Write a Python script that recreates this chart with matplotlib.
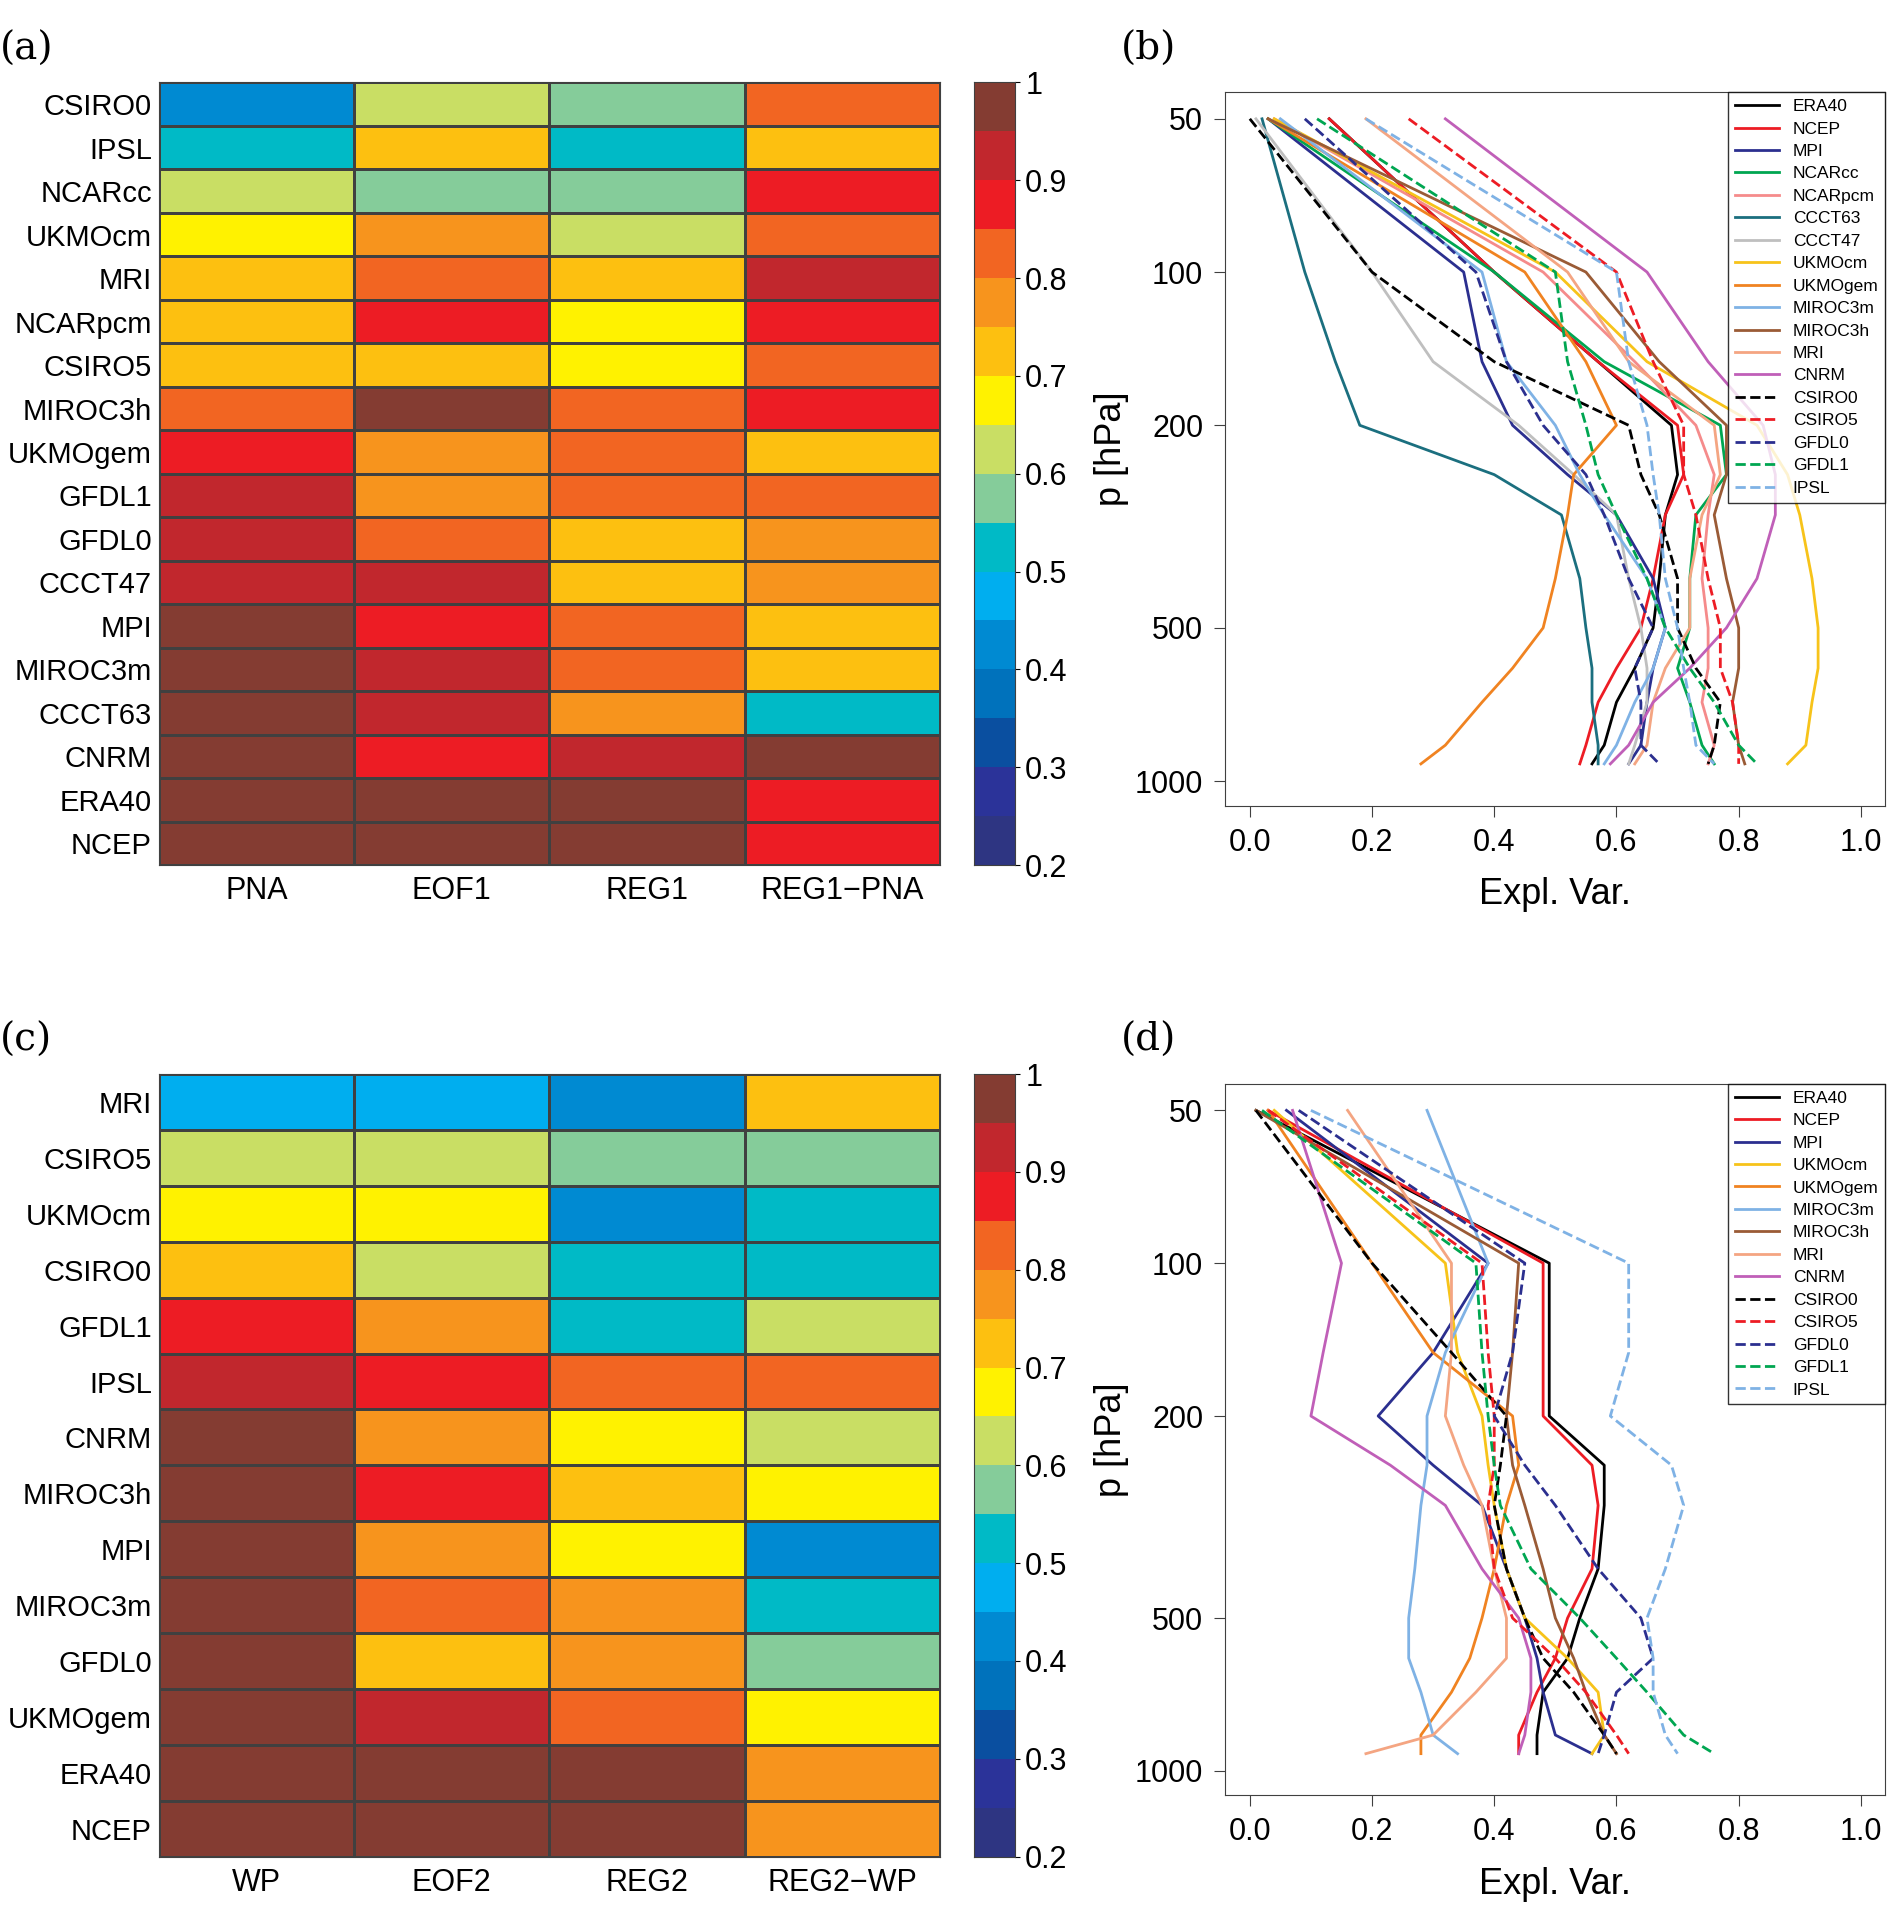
from matplotlib import pyplot as plt
from matplotlib.colors import ListedColormap, BoundaryNorm
import numpy as np

# Colour levels of the explained variance scale.
level_colors = ['#2E3582', '#2B3399', '#0A4FA0', '#0072BC', '#008AD2', '#00AEEF',
                '#00BAC6', '#85CC9A', '#C9DE64', '#FFF200', '#FDC010', '#F7941D',
                '#F26522', '#ED1C24', '#C1272D', '#843C32']
bounds = np.arange(0.2, 1.0001, 0.05)

models_a = ['CSIRO0', 'IPSL', 'NCARcc', 'UKMOcm', 'MRI', 'NCARpcm', 'CSIRO5', 'MIROC3h',
            'UKMOgem', 'GFDL1', 'GFDL0', 'CCCT47', 'MPI', 'MIROC3m', 'CCCT63', 'CNRM',
            'ERA40', 'NCEP']
cols_a = ['PNA', 'EOF1', 'REG1', 'REG1\u2212PNA']
vals_a = [[0.42, 0.62, 0.57, 0.82],
          [0.52, 0.72, 0.52, 0.72],
          [0.62, 0.57, 0.57, 0.87],
          [0.67, 0.77, 0.62, 0.82],
          [0.72, 0.82, 0.72, 0.92],
          [0.72, 0.87, 0.67, 0.87],
          [0.72, 0.72, 0.67, 0.82],
          [0.82, 0.97, 0.82, 0.87],
          [0.87, 0.77, 0.82, 0.72],
          [0.92, 0.77, 0.82, 0.82],
          [0.92, 0.82, 0.72, 0.77],
          [0.92, 0.92, 0.72, 0.77],
          [0.97, 0.87, 0.82, 0.72],
          [0.97, 0.92, 0.82, 0.72],
          [0.97, 0.92, 0.77, 0.52],
          [0.97, 0.87, 0.92, 0.97],
          [0.97, 0.97, 0.97, 0.87],
          [0.97, 0.97, 0.97, 0.87]]

models_c = ['MRI', 'CSIRO5', 'UKMOcm', 'CSIRO0', 'GFDL1', 'IPSL', 'CNRM', 'MIROC3h',
            'MPI', 'MIROC3m', 'GFDL0', 'UKMOgem', 'ERA40', 'NCEP']
cols_c = ['WP', 'EOF2', 'REG2', 'REG2\u2212WP']
vals_c = [[0.47, 0.47, 0.42, 0.72],
          [0.62, 0.62, 0.57, 0.57],
          [0.67, 0.67, 0.42, 0.52],
          [0.72, 0.62, 0.52, 0.52],
          [0.87, 0.77, 0.52, 0.62],
          [0.92, 0.87, 0.82, 0.82],
          [0.97, 0.77, 0.67, 0.62],
          [0.97, 0.87, 0.72, 0.67],
          [0.97, 0.77, 0.67, 0.42],
          [0.97, 0.82, 0.77, 0.52],
          [0.97, 0.72, 0.77, 0.57],
          [0.97, 0.92, 0.82, 0.67],
          [0.97, 0.97, 0.97, 0.77],
          [0.97, 0.97, 0.97, 0.77]]

# Pressure levels of the vertical profiles.
levels = [50, 100, 150, 200, 250, 300, 400, 500, 600, 700, 850, 925]

profiles_b = {
    'ERA40':   [.13, .40, .57, .69, .70, .68, .67, .66, .63, .60, .58, .56],
    'NCEP':    [.13, .40, .57, .70, .71, .68, .66, .64, .60, .57, .55, .54],
    'MPI':     [.03, .35, .38, .43, .52, .60, .66, .68, .66, .65, .64, .62],
    'NCARcc':  [.03, .40, .58, .77, .78, .73, .72, .72, .70, .72, .74, .76],
    'NCARpcm': [.04, .48, .63, .73, .76, .75, .74, .75, .75, .74, .76, .75],
    'CCCT63':  [.02, .09, .14, .18, .40, .51, .54, .55, .56, .56, .57, .57],
    'CCCT47':  [.01, .20, .30, .44, .53, .60, .62, .64, .65, .65, .63, .62],
    'UKMOcm':  [.04, .50, .65, .83, .88, .90, .92, .93, .93, .92, .91, .88],
    'UKMOgem': [.03, .45, .55, .60, .53, .52, .50, .48, .43, .38, .32, .28],
    'MIROC3m': [.05, .38, .42, .50, .54, .58, .65, .68, .66, .63, .60, .58],
    'MIROC3h': [.03, .55, .67, .78, .78, .76, .78, .80, .80, .79, .80, .81],
    'MRI':     [.19, .52, .62, .76, .77, .74, .72, .72, .68, .66, .65, .63],
    'CNRM':    [.32, .65, .75, .84, .86, .86, .83, .78, .72, .66, .62, .59],
    'CSIRO0':  [.00, .20, .40, .62, .64, .67, .70, .70, .73, .77, .76, .75],
    'CSIRO5':  [.26, .60, .66, .71, .71, .73, .75, .77, .77, .79, .80, .80],
    'GFDL0':   [.09, .37, .42, .48, .55, .58, .62, .66, .63, .64, .64, .67],
    'GFDL1':   [.11, .50, .52, .55, .57, .60, .65, .68, .72, .76, .80, .83],
    'IPSL':    [.19, .60, .62, .65, .66, .67, .68, .70, .71, .72, .73, .76],
}

profiles_d = {
    'ERA40':   [.01, .49, .49, .49, .58, .58, .57, .54, .52, .48, .47, .47],
    'NCEP':    [.03, .48, .48, .48, .56, .57, .56, .52, .50, .47, .44, .44],
    'MPI':     [.06, .39, .30, .21, .30, .38, .42, .45, .47, .48, .50, .56],
    'UKMOcm':  [.04, .32, .34, .38, .39, .40, .42, .45, .52, .57, .58, .56],
    'UKMOgem': [.03, .20, .30, .43, .44, .42, .40, .38, .36, .33, .28, .28],
    'MIROC3m': [.29, .39, .32, .29, .29, .28, .27, .26, .26, .28, .30, .34],
    'MIROC3h': [.01, .44, .43, .42, .43, .45, .48, .50, .53, .55, .58, .60],
    'MRI':     [.16, .33, .33, .32, .35, .38, .40, .42, .42, .37, .30, .19],
    'CNRM':    [.07, .15, .12, .10, .23, .32, .38, .44, .46, .46, .45, .44],
    'CSIRO0':  [.01, .20, .33, .42, .41, .40, .42, .45, .48, .53, .58, .60],
    'CSIRO5':  [.03, .38, .39, .40, .40, .39, .40, .43, .50, .55, .60, .62],
    'GFDL0':   [.08, .45, .43, .40, .45, .50, .57, .64, .66, .60, .58, .57],
    'GFDL1':   [.02, .37, .38, .39, .40, .41, .46, .54, .60, .65, .71, .76],
    'IPSL':    [.10, .62, .62, .59, .69, .71, .68, .65, .66, .66, .68, .70],
}

line_styles = {
    'ERA40': ('black', '-'), 'NCEP': ('#ED1C24', '-'), 'MPI': ('#2B2F8F', '-'),
    'NCARcc': ('#00A651', '-'), 'NCARpcm': ('#F58B8B', '-'), 'CCCT63': ('#1B6F7F', '-'),
    'CCCT47': ('#BFBFBF', '-'), 'UKMOcm': ('#F7C31A', '-'), 'UKMOgem': ('#F08321', '-'),
    'MIROC3m': ('#7FB2E5', '-'), 'MIROC3h': ('#9A5B36', '-'), 'MRI': ('#F4A582', '-'),
    'CNRM': ('#C05FB8', '-'), 'CSIRO0': ('black', '--'), 'CSIRO5': ('#ED1C24', '--'),
    'GFDL0': ('#2B2F8F', '--'), 'GFDL1': ('#00A651', '--'), 'IPSL': ('#7FB2E5', '--'),
}

plt.rcParams['font.family'] = 'Liberation Sans'


def draw_heatmap(fig, rect, cbar_rect, models, cols, vals, tag):
    cmap = ListedColormap(level_colors)
    norm = BoundaryNorm(bounds, cmap.N)
    ax = fig.add_axes(rect)
    data = np.array(vals)
    ax.pcolormesh(data, cmap=cmap, norm=norm, edgecolors='#404040', linewidth=1.0)
    ax.set_ylim(len(models), 0)
    ax.set_yticks(np.arange(len(models)) + 0.5)
    ax.set_yticklabels(models, fontsize=21)
    ax.set_xticks(np.arange(len(cols)) + 0.5)
    ax.set_xticklabels(cols, fontsize=22)
    ax.tick_params(axis='y', length=0, pad=5)
    ax.tick_params(axis='x', length=0, pad=8)
    for s in ax.spines.values():
        s.set_color('#404040')
    fig.text(0.0, rect[1] + rect[3] + 0.012, tag, fontsize=28, family='DejaVu Serif')

    cax = fig.add_axes(cbar_rect)
    cax.pcolormesh([0, 1], bounds, np.array([bounds[:-1] + 0.025]).T, cmap=cmap, norm=norm)
    cax.set_xticks([])
    cax.yaxis.tick_right()
    cax.set_yticks([0.2, 0.3, 0.4, 0.5, 0.6, 0.7, 0.8, 0.9, 1.0])
    cax.set_yticklabels(['0.2', '0.3', '0.4', '0.5', '0.6', '0.7', '0.8', '0.9', '1'], fontsize=22)
    cax.set_ylim(0.2, 1.0)
    for s in cax.spines.values():
        s.set_color('#404040')


def draw_profiles(fig, rect, profiles, tag):
    ax = fig.add_axes(rect)
    for name, xs in profiles.items():
        color, ls = line_styles[name]
        ax.plot(xs, levels, color=color, linestyle=ls, linewidth=2, label=name)
    ax.set_yscale('log')
    ax.set_ylim(1117, 44.3)
    ax.set_xlim(-0.04, 1.04)
    ax.set_yticks([50, 100, 200, 500, 1000])
    ax.set_yticklabels(['50', '100', '200', '500', '1000'])
    ax.minorticks_off()
    ax.set_xticks([0.0, 0.2, 0.4, 0.6, 0.8, 1.0])
    ax.set_xticklabels(['0.0', '0.2', '0.4', '0.6', '0.8', '1.0'])
    ax.tick_params(labelsize=22, length=8, color='#404040', pad=8)
    ax.set_xlabel('Expl. Var.', fontsize=26, labelpad=14)
    ax.set_ylabel('p [hPa]', fontsize=26)
    for s in ax.spines.values():
        s.set_color('#404040')
    leg = ax.legend(loc='upper right', fontsize=12.5, fancybox=False, edgecolor='black',
                    handlelength=2.5, labelspacing=0.42, borderaxespad=0)
    leg.get_frame().set_linewidth(1.0)
    fig.text(0.593, rect[1] + rect[3] + 0.017, tag, fontsize=28, family='DejaVu Serif')


def main():
    fig = plt.figure(figsize=(18.91, 19.18), dpi=100)
    draw_heatmap(fig, [0.084, 0.549, 0.413, 0.408], [0.515, 0.549, 0.022, 0.408],
                 models_a, cols_a, vals_a, '(a)')
    draw_profiles(fig, [0.648, 0.580, 0.349, 0.372], profiles_b, '(b)')
    draw_heatmap(fig, [0.084, 0.032, 0.413, 0.408], [0.515, 0.032, 0.022, 0.408],
                 models_c, cols_c, vals_c, '(c)')
    draw_profiles(fig, [0.648, 0.064, 0.349, 0.371], profiles_d, '(d)')
    fig.savefig('out.png', dpi=100)


if __name__ == '__main__':
    main()
